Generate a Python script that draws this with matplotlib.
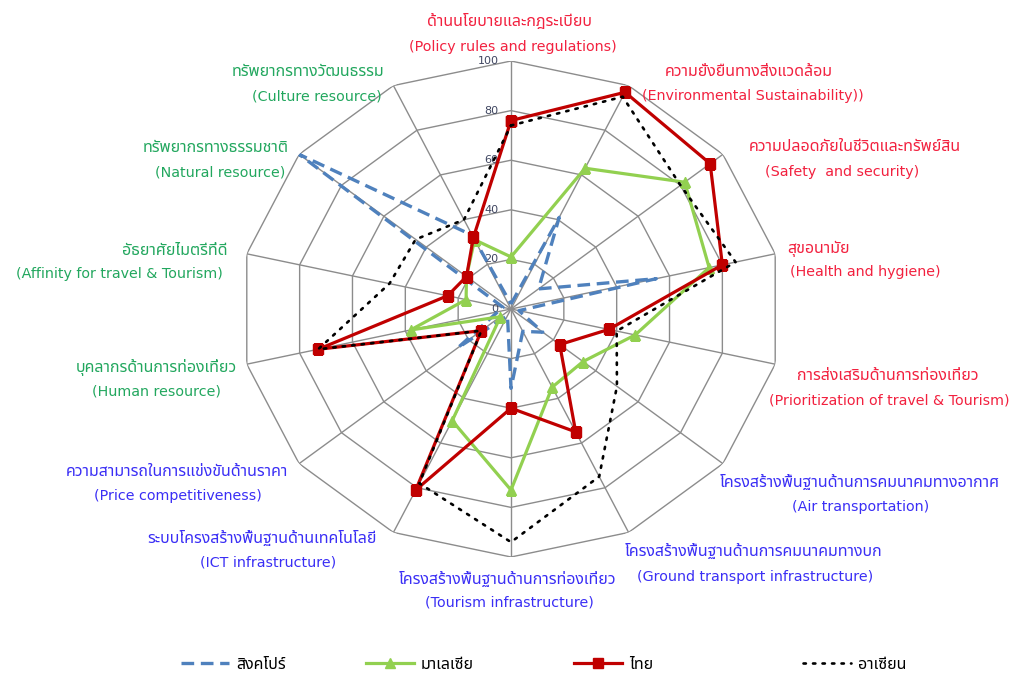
import numpy as np
import matplotlib
matplotlib.use("Agg")
import matplotlib.pyplot as plt
from matplotlib import font_manager
from matplotlib.ft2font import FT2Font
from matplotlib.transforms import offset_copy

# ---------------------------------------------------------------- data
categories_th = [
    "ด้านนโยบายและกฎระเบียบ",
    "ความยั่งยืนทางสิ่งแวดล้อม",
    "ความปลอดภัยในชีวิตและทรัพย์สิน",
    "สุขอนามัย",
    "การส่งเสริมด้านการท่องเที่ยว",
    "โครงสร้างพื้นฐานด้านการคมนาคมทางอากาศ",
    "โครงสร้างพื้นฐานด้านการคมนาคมทางบก",
    "โครงสร้างพื้นฐานด้านการท่องเที่ยว",
    "ระบบโครงสร้างพื้นฐานด้านเทคโนโลยี",
    "ความสามารถในการแข่งขันด้านราคา",
    "บุคลากรด้านการท่องเที่ยว",
    "อัธยาศัยไมตรีที่ดี",
    "ทรัพยากรทางธรรมชาติ",
    "ทรัพยากรทางวัฒนธรรม",
]
categories_en = [
    "(Policy rules and regulations)",
    "(Environmental Sustainability))",
    "(Safety  and security)",
    "(Health and hygiene)",
    "(Prioritization of travel & Tourism)",
    "(Air transportation)",
    "(Ground transport infrastructure)",
    "(Tourism infrastructure)",
    "(ICT infrastructure)",
    "(Price competitiveness)",
    "(Human resource)",
    "(Affinity for travel & Tourism)",
    "(Natural resource)",
    "(Culture resource)",
]
series_names = ["สิงคโปร์", "มาเลเซีย", "ไทย", "อาเซียน"]
singapore = [2, 41, 13, 55, 3, 15, 10, 32, 3, 25, 5, 3, 100, 33]
malaysia = [21, 63, 82, 75, 47, 34, 35, 73, 50, 5, 38, 17, 21, 31]
thailand = [76, 97, 94, 80, 37, 23, 55, 40, 81, 14, 73, 24, 21, 32]
asean = [74, 95, 80, 85, 40, 50, 75, 94, 78, 14, 73, 46, 45, 40]
radial_ticks = [0, 20, 40, 60, 80, 100]

# ---------------------------------------------------------------- fonts
def thai_capable_families():
    found = []
    for entry in font_manager.fontManager.ttflist:
        try:
            cmap = FT2Font(entry.fname).get_charmap()
        except Exception:
            continue
        if all(cp in cmap for cp in (0x0E01, 0x0E32, 0x0E48, 0x0E35)):
            if entry.name not in found:
                found.append(entry.name)
    preferred = ["Tahoma", "Noto Sans Thai", "Noto Sans Thai Looped", "Loma",
                 "Garuda", "Sarabun", "Norasi", "Kinnari", "Waree", "Umpush"]
    ordered = [p for p in preferred if p in found] + [f for f in found if f not in preferred]
    return ordered

thai_fonts = thai_capable_families()
text_family = thai_fonts[:1] + ["DejaVu Sans"]
plt.rcParams["font.family"] = text_family

# ---------------------------------------------------------------- styles
RED = "#F2213F"
BLUE = "#3A2EF5"
GREEN = "#22A75E"
label_colors = [RED] * 5 + [BLUE] * 5 + [GREEN] * 4

# label anchor points in figure pixels: (x_thai, y_thai, x_english, y_english)
label_px = [
    (510, 22, 513, 47),
    (749, 72, 753, 96),
    (855, 147, 842, 172),
    (818, 249, 865, 272),
    (888, 376, 889, 400),
    (860, 483, 861, 507),
    (754, 552, 755, 577),
    (508, 580, 509, 603),
    (262, 539, 268, 562),
    (177, 472, 178, 496),
    (156, 368, 157, 392),
    (175, 251, 119, 274),
    (216, 148, 220, 173),
    (308, 72, 317, 96),
]

W, H = 1014, 679
fig = plt.figure(figsize=(W / 100, H / 100), dpi=100)
fig.patch.set_facecolor("white")

cx, cy, rx, ry = 511, 309, 271, 248
ax = fig.add_axes([(cx - rx) / W, 1 - (cy + ry) / H, 2 * rx / W, 2 * ry / H],
                  projection="polar")
ax.set_aspect("auto")
ax.set_theta_zero_location("N")
ax.set_theta_direction(-1)
ax.set_ylim(0, 100)
ax.grid(False)
ax.set_xticks([])
ax.set_yticks([])
ax.spines["polar"].set_visible(False)
ax.patch.set_visible(False)

n = len(categories_th)
angles = np.arange(n) * 2 * np.pi / n
closed = np.append(angles, angles[0])

# web: polygon rings and spokes
grid_kw = dict(color="#8C8C8C", lw=1.0, zorder=1, solid_capstyle="butt")
for r in radial_ticks[1:]:
    ax.plot(closed, [r] * (n + 1), **grid_kw)
for a in angles:
    ax.plot([a, a], [0, 100], **grid_kw)

# radial value labels along the first spoke
tick_tr = offset_copy(ax.transData, fig=fig, x=-9, y=0, units="points")
for r in radial_ticks:
    ax.text(0, r, str(r), transform=tick_tr, ha="right", va="center",
            fontsize=8, color="#3E4560", family="DejaVu Sans", zorder=2)

def close(v):
    return list(v) + [v[0]]

h_sg, = ax.plot(closed, close(singapore), color="#4F81BD", lw=2.4,
                dashes=(3.8, 2.0), zorder=3, label=series_names[0])
h_my, = ax.plot(closed, close(malaysia), color="#92D050", lw=2.3,
                marker="^", markersize=7, zorder=4, label=series_names[1])
h_th, = ax.plot(closed, close(thailand), color="#C00000", lw=2.3,
                marker="s", markersize=7.5, zorder=5, label=series_names[2])
h_as, = ax.plot(closed, close(asean), color="black", lw=1.9,
                linestyle=(0, (0.9, 2.7)), dash_capstyle="round", zorder=6,
                label=series_names[3])

# category labels (Thai line + English line)
for k in range(n):
    xt, yt, xe, ye = label_px[k]
    fig.text(xt / W, 1 - yt / H, categories_th[k], ha="center", va="center",
             fontsize=11.5, color=label_colors[k], family=text_family)
    fig.text(xe / W, 1 - ye / H, categories_en[k], ha="center", va="center",
             fontsize=10.3, color=label_colors[k], family="DejaVu Sans")

# legend entries spaced along the bottom
legend_x = [181, 366, 574, 803]
for h, x in zip([h_sg, h_my, h_th, h_as], legend_x):
    fig.legend(handles=[h], loc="center left", bbox_to_anchor=(x / W, 1 - 665 / H),
               frameon=False, borderpad=0, borderaxespad=0, handlelength=3.0,
               handletextpad=0.45,
               prop={"family": text_family, "size": 11.5})

fig.savefig("out.png", dpi=100, facecolor="white")
